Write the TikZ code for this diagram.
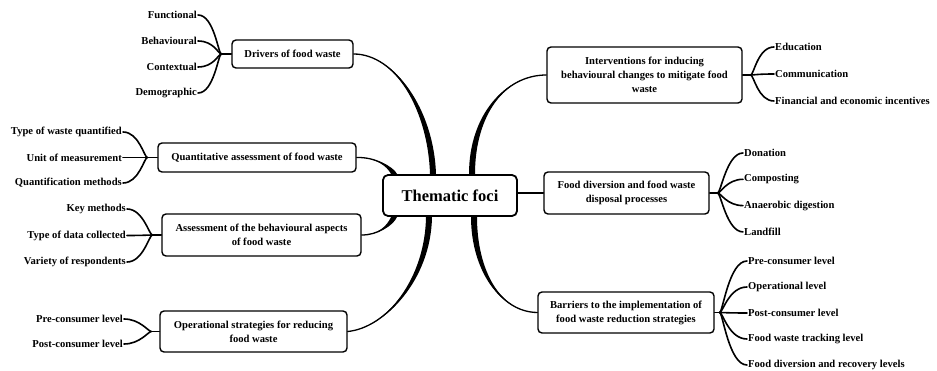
\documentclass[tikz,border=0pt]{standalone}
\usepackage{fontspec}
\setmainfont{Liberation Serif}
\begin{document}
\begin{tikzpicture}[x=1pt, y=-1pt, line cap=round, line join=round,
    topic/.style={draw, line width=1.4pt, rounded corners=4pt, fill=white, align=center, inner sep=0pt, font=\bfseries\fontsize{10.6}{14}\selectfont},
    leafL/.style={anchor=east, inner sep=1pt, font=\bfseries\fontsize{10.6}{12}\selectfont},
    leafR/.style={anchor=west, inner sep=1pt, font=\bfseries\fontsize{10.6}{12}\selectfont},
    fork/.style={line width=1.6pt},
    branch/.style={line width=1.3pt}]
    \useasboundingbox (0,0) rectangle (937,371);

    % 中心ノード
    \node[draw, line width=1.8pt, rounded corners=5pt, minimum width=134pt, minimum height=41pt, font=\bfseries\fontsize{16.5}{19}\selectfont] (foci) at (450,195.5) {Thematic foci};

    % 左側のトピック
    \node[topic, minimum width=121pt, minimum height=28pt] (drv) at (292.5,54) {Drivers of food waste};
    \node[topic, minimum width=198pt, minimum height=29pt] (qnt) at (257,157.5) {Quantitative assessment of food waste};
    \node[topic, minimum width=199pt, minimum height=42pt] (beh) at (261.5,235) {Assessment of the behavioural aspects\\of food waste};
    \node[topic, minimum width=187pt, minimum height=41pt] (ops) at (253.5,331.5) {Operational strategies for reducing\\food waste};

    % 右側のトピック
    \node[topic, minimum width=195pt, minimum height=56pt] (int) at (644.5,75) {Interventions for inducing\\behavioural changes to mitigate food\\waste};
    \node[topic, minimum width=165pt, minimum height=42pt] (div) at (626.5,193) {Food diversion and food waste\\disposal processes};
    \node[topic, minimum width=176pt, minimum height=41pt] (bar) at (626,312.5) {Barriers to the implementation of\\food waste reduction strategies};

    % 分岐点
    \coordinate (jdrv) at ([xshift=-10pt]drv.west);
    \coordinate (jqnt) at ([xshift=-10pt]qnt.west);
    \coordinate (jbeh) at ([xshift=-9pt]beh.west);
    \coordinate (jops) at ([xshift=-8pt]ops.west);
    \coordinate (jint) at ([xshift=8pt]int.east);
    \coordinate (jdiv) at ([xshift=8pt]div.east);
    \coordinate (jbar) at ([xshift=5pt]bar.east);
    \foreach \t in {drv,qnt,beh,ops} \draw[fork] (\t.west) -- (j\t);
    \foreach \t in {int,div,bar} \draw[fork] (\t.east) -- (j\t);

    % 葉ノード (左)
    \foreach \t [count=\i from 0] in {Functional,Behavioural,Contextual,Demographic} {
        \node[leafL] (drv\i) at (198,{15+26*\i}) {\t};
        \draw[fork] (drv\i.east) .. controls +(16,0) and +(-3,0) .. (jdrv);
    }
    \foreach \t [count=\i from 0] in {Type of waste quantified,Unit of measurement,Quantification methods} {
        \node[leafL] (qnt\i) at (123,{132+25.5*\i}) {\t};
        \draw[fork] (qnt\i.east) .. controls +(16,0) and +(-3,0) .. (jqnt);
    }
    \foreach \t [count=\i from 0] in {Key methods,Type of data collected,Variety of respondents} {
        \node[leafL] (beh\i) at (127,{209+26.5*\i}) {\t};
        \draw[fork] (beh\i.east) .. controls +(16,0) and +(-3,0) .. (jbeh);
    }
    \foreach \t [count=\i from 0] in {Pre-consumer level,Post-consumer level} {
        \node[leafL] (ops\i) at (124,{319+25*\i}) {\t};
        \draw[fork] (ops\i.east) .. controls +(16,0) and +(-3,0) .. (jops);
    }

    % 葉ノード (右)
    \foreach \t [count=\i from 0] in {Education,Communication,Financial and economic incentives} {
        \node[leafR] (int\i) at (774,{47+27*\i}) {\t};
        \draw[fork] (jint) .. controls +(3,0) and +(-16,0) .. (int\i.west);
    }
    \foreach \t [count=\i from 0] in {Donation,Composting,Anaerobic digestion,Landfill} {
        \node[leafR] (div\i) at (743,{153+26.3*\i}) {\t};
        \draw[fork] (jdiv) .. controls +(3,0) and +(-16,0) .. (div\i.west);
    }
    \foreach \t [count=\i from 0] in {Pre-consumer level,Operational level,Post-consumer level,Food waste tracking level,Food diversion and recovery levels} {
        \node[leafR] (bar\i) at (747,{261+26*\i}) {\t};
        \draw[fork] (jbar) .. controls +(3,0) and +(-18,0) .. (bar\i.west);
    }

    % 中心への太い枝
    \coordinate (fA) at ([xshift=-17pt]foci.north);
    \coordinate (fB) at ([xshift=22pt]foci.north);
    \coordinate (fC) at ([xshift=-21pt]foci.south);
    \coordinate (fD) at ([xshift=24pt]foci.south);
    \coordinate (fE) at ([xshift=12pt]foci.north west);
    \coordinate (fF) at ([xshift=12pt]foci.south west);

    \fill (drv.east) .. controls (395,54) and (428,110) .. ([xshift=-3pt]fA) -- ([xshift=3pt]fA) .. controls (434,110) and (395,54) .. (drv.east);
    \draw[branch] (drv.east) .. controls (395,54) and (431,110) .. (fA);

    \fill (qnt.east) .. controls (375,157) and (387,166) .. ([xshift=-3pt]fE) -- ([xshift=3pt]fE) .. controls (393,166) and (375,157) .. (qnt.east);
    \draw[branch] (qnt.east) .. controls (375,157) and (390,166) .. (fE);

    \fill (beh.east) .. controls (378,235) and (387,226) .. ([xshift=-3pt]fF) -- ([xshift=3pt]fF) .. controls (393,226) and (378,235) .. (beh.east);
    \draw[branch] (beh.east) .. controls (378,235) and (390,226) .. (fF);

    \fill (ops.east) .. controls (385,328) and (425,280) .. ([xshift=-3pt]fC) -- ([xshift=3pt]fC) .. controls (431,280) and (385,328) .. (ops.east);
    \draw[branch] (ops.east) .. controls (385,328) and (428,280) .. (fC);

    \fill (int.west) .. controls (505,75) and (469,115) .. ([xshift=-3pt]fB) -- ([xshift=3pt]fB) .. controls (475,115) and (505,75) .. (int.west);
    \draw[branch] (int.west) .. controls (505,75) and (472,115) .. (fB);

    \fill (bar.west) .. controls (500,312) and (471,270) .. ([xshift=-3pt]fD) -- ([xshift=3pt]fD) .. controls (477,270) and (500,312) .. (bar.west);
    \draw[branch] (bar.west) .. controls (500,312) and (474,270) .. (fD);

    \draw[line width=1.8pt] (foci.east |- div.west) -- (div.west);
\end{tikzpicture}
\end{document}
